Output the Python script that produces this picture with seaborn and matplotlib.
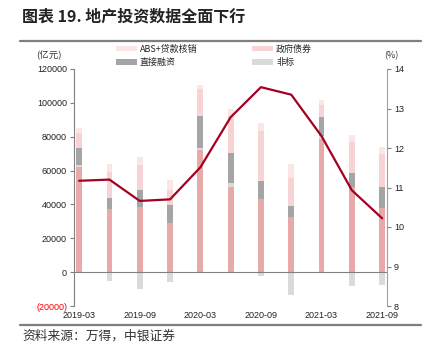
import numpy as np
import pandas as pd
import matplotlib
matplotlib.use("Agg")
import matplotlib.pyplot as plt
import seaborn as sns
from matplotlib.ticker import FuncFormatter, FixedLocator

# ---- data ----
quarters = ["2019-03", "2019-06", "2019-09", "2019-12", "2020-03", "2020-06",
            "2020-09", "2020-12", "2021-03", "2021-06", "2021-09"]
loans = [62300, 37200, 38350, 29250, 72150, 50150, 43250, 32800, 78450, 50150, 38000]
nonstd = [1000, -5500, -9800, -6000, 1000, 2700, -2500, -13400, 1950, -8050, -7300]
direct = [9850, 6850, 10200, 10400, 19250, 17350, 10800, 6500, 11400, 8600, 12150]
govbond = [9200, 15300, 14750, 8850, 15600, 22000, 29500, 16150, 6900, 18300, 19700]
abs_wo = [2600, 4500, 4550, 5900, 2550, 3950, 4300, 8250, 2950, 3950, 4300]
growth = [11.17, 11.2, 10.66, 10.7, 11.51, 12.78, 13.54, 13.35, 12.3, 10.93, 10.22]
xlabels = ["2019-03", "2019-09", "2020-03", "2020-09", "2021-03", "2021-09"]

c_loan = "#e8a9a9"
c_nonstd = "#dadada"
c_direct = "#a5a5a5"
c_gov = "#f8d3d3"
c_abs = "#fbe6e6"
c_line = "#a50021"

sns.set_theme(style="white")
plt.rcParams["font.family"] = ["Noto Sans CJK SC", "DejaVu Sans"]

fig = plt.figure(figsize=(4.29, 3.58), dpi=100)
ax = fig.add_axes([74/429, 1-306/358, (387-74)/429, (306-69)/358])

df = pd.DataFrame({"q": quarters, "loans": loans, "nonstd": nonstd, "direct": direct,
                   "gov": govbond, "abs": abs_wo})
pos_ns = np.clip(df["nonstd"].values, 0, None)
b_ns = np.where(df["nonstd"].values > 0, df["loans"].values, 0)
b_dir = df["loans"].values + pos_ns
b_gov = b_dir + df["direct"].values
b_abs = b_gov + df["gov"].values

w = 0.19
common = dict(x="q", data=df, ax=ax, width=w, linewidth=0, saturation=1, errorbar=None)
sns.barplot(y="loans", color=c_loan, **common)
sns.barplot(y="nonstd", color=c_nonstd, bottom=b_ns, label="非标", **common)
sns.barplot(y="direct", color=c_direct, bottom=b_dir, label="直接融资", **common)
sns.barplot(y="gov", color=c_gov, bottom=b_gov, label="政府债券", **common)
sns.barplot(y="abs", color=c_abs, bottom=b_abs, label="ABS+贷款核销", **common)

ax.set_xlim(-0.17, 10.16)
ax.set_ylim(-20000, 120000)
ax.set_yticks(np.arange(-20000, 120001, 20000))
ax.yaxis.set_major_formatter(FuncFormatter(lambda v, p: f"({abs(int(v))})" if v < 0 else f"{int(v)}"))
ax.set_xlabel("")
ax.set_ylabel("")

# bottom spine at zero with small ticks
ax.spines["bottom"].set_position(("data", 0))
ax.spines["bottom"].set_color("#808080")
ax.spines["bottom"].set_linewidth(0.8)
ax.spines["top"].set_visible(False)
ax.spines["right"].set_visible(False)
ax.spines["left"].set_color("#808080")
ax.spines["left"].set_linewidth(0.8)
ax.xaxis.set_major_locator(FixedLocator([i - 0.2 for i in range(2, 11, 2)]))
ax.tick_params(axis="x", which="major", length=3, color="#808080", width=0.8,
               labelbottom=False, direction="out")
ax.tick_params(axis="y", length=3, color="#808080", width=0.8, labelsize=6.5,
               labelcolor="#222222", pad=2, direction="out")
for t in ax.get_yticklabels():
    t.set_fontfamily(["Liberation Sans", "DejaVu Sans"])
ax.get_yticklabels()[0].set_color("#ff0000")

sec = ax.secondary_xaxis(0.0)
sec.set_xticks(range(0, 11, 2))
sec.set_xticklabels(xlabels, fontsize=6.5, color="#222222", family=["Liberation Sans", "DejaVu Sans"])
sec.tick_params(length=0, pad=3.5)
sec.spines["bottom"].set_visible(False)

ax2 = ax.twinx()
sns.lineplot(x=np.arange(len(quarters)), y=growth, ax=ax2, color=c_line, linewidth=1.6)
ax2.set_ylim(8, 14)
ax2.set_yticks(range(8, 15))
ax2.tick_params(axis="y", length=3, color="#808080", width=0.8, labelsize=6.5,
                labelcolor="#222222", pad=2, direction="out")
for t in ax2.get_yticklabels():
    t.set_fontfamily(["Liberation Sans", "DejaVu Sans"])
for s in ["top", "left", "bottom"]:
    ax2.spines[s].set_visible(False)
ax2.spines["right"].set_color("#a0a0a0")
ax2.spines["right"].set_linewidth(0.8)
ax2.set_xlim(-0.17, 10.16)

# unit labels
fig.text(36/429, 1-55/358, "(亿元)", fontsize=6.8, color="#333333", va="center", ha="left", style="italic")
fig.text(384/429, 1-56/358, "(%)", fontsize=6.5, color="#333333", va="center", ha="left")

# legend
handles, labels = ax.get_legend_handles_labels()
order = ["ABS+贷款核销", "直接融资", "政府债券", "非标"]
hmap = dict(zip(labels, handles))
leg = fig.legend([hmap[l] for l in order], order, ncol=2, loc="upper left",
                 bbox_to_anchor=(112/429, 1-41/358), frameon=False, fontsize=6.5,
                 handlelength=2.4, handleheight=0.6, handletextpad=0.3,
                 columnspacing=6.0, labelspacing=0.45, borderaxespad=0)
if ax.legend_:
    ax.legend_.remove()

# title, rules, source
fig.text(22/429, 1-16/358, "图表 19. 地产投资数据全面下行", fontsize=11.5, fontweight="bold",
         color="#222222", va="center", ha="left")
fig.add_artist(plt.Line2D([20/429, 421/429], [1-41/358, 1-41/358], color="#7f7f7f", linewidth=1.6))
fig.add_artist(plt.Line2D([20/429, 421/429], [1-325/358, 1-325/358], color="#7f7f7f", linewidth=1.6))
fig.text(22/429, 1-336/358, "资料来源：万得，中银证券", fontsize=9.2, color="#333333",
         va="center", ha="left", style="italic")

fig.savefig("out.png", dpi=100)
